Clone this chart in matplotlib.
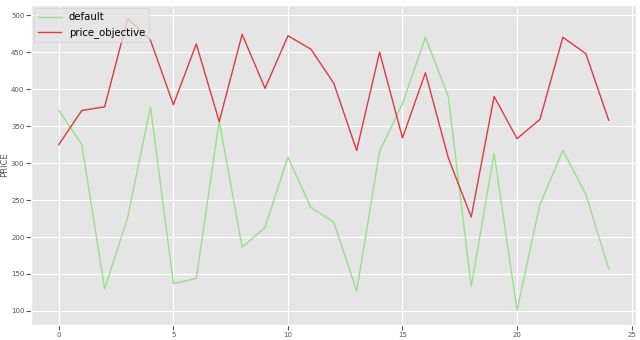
import matplotlib
matplotlib.use('Agg')
import matplotlib.pyplot as plt

plt.style.use('ggplot')

x = list(range(25))
default = [371, 325, 130, 226, 376, 137, 144, 357, 186, 213, 308, 240, 220, 127, 316,
           380, 470, 390, 133, 313, 101, 244, 317, 258, 157]
price_objective = [325, 371, 376, 495, 466, 379, 461, 356, 474, 401, 472, 454, 408, 317, 450,
                   334, 422, 307, 227, 390, 333, 359, 470, 448, 358]

fig, ax = plt.subplots(figsize=(6.4, 3.4), dpi=100)
ax.plot(x, default, color='#98e08c', linewidth=1, label='default')
ax.plot(x, price_objective, color='#dd3b3f', linewidth=1, label='price_objective')

ax.set_ylabel('PRICE', fontsize=6, labelpad=1)
ax.tick_params(labelsize=5, pad=1.5)
ax.set_xlim(-1.2, 25.2)
ax.set_ylim(81, 513.5)
ax.legend(loc='upper left', fontsize=7.3, borderaxespad=0.3, handlelength=2.2)

plt.subplots_adjust(left=0.049, right=0.994, top=0.985, bottom=0.044)
plt.savefig('out.png', dpi=100)
